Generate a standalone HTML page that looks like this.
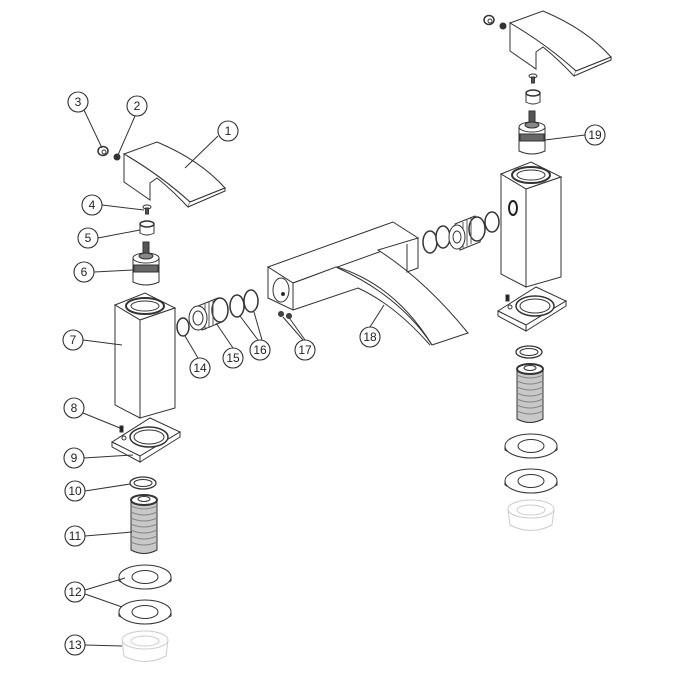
<!DOCTYPE html>
<html><head><meta charset="utf-8"><style>
html,body{margin:0;padding:0;background:#fff}
svg{display:block}
text{font-family:"Liberation Sans",sans-serif;font-size:12px;fill:#222}
</style></head><body>
<svg width="675" height="675" viewBox="0 0 675 675" xmlns="http://www.w3.org/2000/svg">
<defs>
<g id="asm" fill="#fff" stroke="#333" stroke-width="1">
  <path d="M124,154 L157,142 Q200,160 225,188 L190,202 Q160,175 124,154 Z"/>
  <path d="M124,154 Q160,175 190,202 L188,207 Q172,190 157,178 L150,183 L150,200 L124,182 Z"/>
  <path d="M190,202 L225,188 L225,191 L188,207" />
  <ellipse cx="103" cy="151" rx="5" ry="4.5" stroke-width="1.5"/>
  <circle cx="104" cy="152" r="2"/>
  <circle cx="117" cy="157" r="3" fill="#333"/>
  <ellipse cx="147" cy="207" rx="4" ry="2"/>
  <rect x="145.5" y="208" width="3" height="6" fill="#555"/>
  <path d="M140,224 L140,233 Q147,237 154,233 L154,224"/>
  <ellipse cx="147" cy="224" rx="7" ry="3" stroke-width="1.5"/>
  <rect x="143" y="242" width="6" height="12" fill="#555"/>
  <path d="M133,258 L133,282 Q146,288 159,282 L159,258"/>
  <ellipse cx="146" cy="258" rx="13" ry="5"/>
  <rect x="134" y="265" width="24" height="7" fill="#666"/>
  <ellipse cx="146" cy="256" rx="7" ry="3" fill="#888"/>
  <path d="M115,305 L145,293 L175,308 L140,320 Z"/>
  <path d="M115,305 L140,320 L140,418 L115,405 Z"/>
  <path d="M140,320 L175,308 L175,408 L140,418 Z"/>
  <ellipse cx="145" cy="306" rx="19" ry="8" stroke-width="2"/>
  <ellipse cx="145" cy="306" rx="14" ry="5"/>
  <path d="M112,442 L150,418 L180,432 L140,456 Z"/>
  <path d="M112,442 L140,456 L140,462 L112,447 Z"/>
  <path d="M140,456 L180,432 L180,437 L140,462 Z"/>
  <ellipse cx="149" cy="437" rx="19" ry="10" stroke-width="1.5"/>
  <ellipse cx="149" cy="437" rx="15" ry="7"/>
  <circle cx="124" cy="438" r="2"/>
  <rect x="120" y="426" width="3" height="6" fill="#222"/>
  <ellipse cx="143" cy="483" rx="13" ry="6" stroke-width="1.3"/>
  <ellipse cx="143" cy="483" rx="9" ry="3.5"/>
  <path d="M131,502 L131,550 Q144,557 157,550 L157,502" fill="#c8c8c8"/>
  <path d="M131,506 Q144,512 157,506 M131,512 Q144,518 157,512 M131,518 Q144,524 157,518 M131,524 Q144,530 157,524 M131,530 Q144,536 157,530 M131,536 Q144,542 157,536 M131,542 Q144,548 157,542" fill="none" stroke="#888"/>
  <ellipse cx="144" cy="500" rx="13" ry="5" fill="#fff" stroke-width="2"/>
  <ellipse cx="144" cy="499" rx="6" ry="2.5"/>
  <path d="M119,577 L119,581 Q145,596 171,581 L171,577"/>
  <ellipse cx="145" cy="577" rx="26" ry="12"/>
  <ellipse cx="145" cy="577" rx="13" ry="6.5"/>
  <path d="M119,612 L119,616 Q145,631 171,616 L171,612"/>
  <ellipse cx="145" cy="612" rx="26" ry="12"/>
  <ellipse cx="145" cy="612" rx="13" ry="6.5"/>
  <g stroke="#ccc">
  <path d="M122,640 L124,656 Q145,667 166,656 L168,640"/>
  <ellipse cx="145" cy="640" rx="23" ry="9"/>
  <ellipse cx="145" cy="641" rx="14" ry="5"/>
  </g>
</g>
</defs>
<use href="#asm"/>
<use href="#asm" transform="translate(386,-131)"/>
<ellipse cx="513" cy="208" rx="4" ry="7" fill="#fff" stroke="#222" stroke-width="2"/>

<g fill="#fff" stroke="#333" stroke-width="1">
  <ellipse cx="183" cy="327" rx="6" ry="9" stroke-width="1.5"/>
  <path d="M198,306 L218,298 Q228,308 222,322 L202,330 Z"/>
  <ellipse cx="220" cy="310" rx="8" ry="12" stroke-width="1.5"/>
  <path d="M205,304 L205,330 M209,302 L209,328 M213,300 L213,326" stroke="#555"/>
  <ellipse cx="198" cy="318" rx="9" ry="12"/>
  <ellipse cx="198" cy="318" rx="5" ry="7"/>
  <ellipse cx="237" cy="306" rx="7" ry="11" stroke-width="1.5"/>
  <ellipse cx="251" cy="301" rx="7" ry="11" stroke-width="1.5"/>
  <ellipse cx="430" cy="242" rx="7" ry="11" stroke-width="1.5"/>
  <ellipse cx="443" cy="237" rx="7" ry="11" stroke-width="1.5"/>
  <path d="M455,224 L475,216 Q485,226 480,242 L460,250 Z"/>
  <ellipse cx="477" cy="229" rx="8" ry="12" stroke-width="1.5"/>
  <path d="M463,222 L463,248 M467,220 L467,246 M471,218 L471,244" stroke="#555"/>
  <ellipse cx="457" cy="237" rx="8" ry="12"/>
  <ellipse cx="457" cy="237" rx="4" ry="6"/>
  <ellipse cx="492" cy="222" rx="7" ry="10" stroke-width="1.5"/>
  <path d="M268,267 L393,222 L418,238 L293,283 Z"/>
  <path d="M268,267 L293,283 L293,310 L268,298 Z"/>
  <path d="M293,283 L336,267 L338,268 Q400,296 432,345 L468,333 Q425,280 378,250 L418,238 L418,268 L407,272 L407,244" fill="#fff"/>
  <path d="M293,310 L358,288 Q395,305 430,345" fill="none"/>
  <path d="M337,267 Q395,285 432,345" fill="none"/>
  <ellipse cx="281" cy="290" rx="8" ry="12"/>
  <circle cx="283" cy="294" r="1.5" fill="#222"/>
  <circle cx="281" cy="314" r="2.5" fill="#444"/>
  <circle cx="289" cy="316" r="2.5" fill="#444"/>
</g>

<g stroke="#333" stroke-width="1" fill="none">
  <path d="M218,136 L185,168"/>
  <path d="M135,116 L118,155"/>
  <path d="M84,110 L102,148"/>
  <path d="M102,205 L144,210"/>
  <path d="M98,238 L140,230"/>
  <path d="M94,272 L133,270"/>
  <path d="M83,340 L122,345"/>
  <path d="M83,413 L120,428"/>
  <path d="M84,458 L133,455"/>
  <path d="M85,491 L130,484"/>
  <path d="M85,536 L132,532"/>
  <path d="M85,590 L125,578 M85,594 L122,607"/>
  <path d="M85,645 L122,646"/>
  <path d="M198,358 L185,336"/>
  <path d="M233,348 L216,323"/>
  <path d="M258,340 L240,316 M262,340 L254,312"/>
  <path d="M303,340 L283,317 M305,340 L290,319"/>
  <path d="M370,327 L384,305"/>
  <path d="M585,135 L545,140"/>
</g>
<g fill="#fff" stroke="#333" stroke-width="1.1">
  <circle cx="228" cy="131" r="10"/><circle cx="137" cy="106" r="10"/><circle cx="78" cy="102" r="10"/>
  <circle cx="92" cy="205" r="10"/><circle cx="88" cy="238" r="10"/><circle cx="84" cy="272" r="10"/>
  <circle cx="73" cy="340" r="10"/><circle cx="74" cy="408" r="10"/><circle cx="74" cy="458" r="10"/>
  <circle cx="75" cy="491" r="10"/><circle cx="75" cy="536" r="10"/><circle cx="75" cy="592" r="10"/>
  <circle cx="75" cy="645" r="10"/><circle cx="200" cy="368" r="10"/><circle cx="233" cy="358" r="10"/>
  <circle cx="260" cy="350" r="10"/><circle cx="305" cy="350" r="10"/><circle cx="370" cy="337" r="10"/>
  <circle cx="595" cy="135" r="10"/>
</g>
<g text-anchor="middle">
  <text x="228" y="135">1</text><text x="137" y="110">2</text><text x="78" y="106">3</text>
  <text x="92" y="209">4</text><text x="88" y="242">5</text><text x="84" y="276">6</text>
  <text x="73" y="344">7</text><text x="74" y="412">8</text><text x="74" y="462">9</text>
  <text x="75" y="495">10</text><text x="75" y="540">11</text><text x="75" y="596">12</text>
  <text x="75" y="649">13</text><text x="200" y="372">14</text><text x="233" y="362">15</text>
  <text x="260" y="354">16</text><text x="305" y="354">17</text><text x="370" y="341">18</text>
  <text x="595" y="139">19</text>
</g>
</svg>
</body></html>
